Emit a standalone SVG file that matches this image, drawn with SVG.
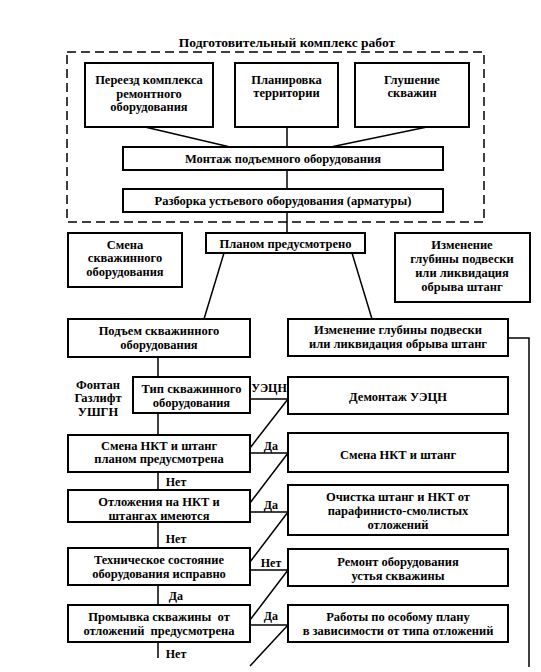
<svg xmlns="http://www.w3.org/2000/svg" width="541" height="672" viewBox="0 0 541 672">
<style>
.b{fill:#fff;stroke:#000;stroke-width:2}
.c{fill:none;stroke:#000;stroke-width:1.5}
.d{fill:none;stroke:#000;stroke-width:1.5;stroke-dasharray:9 5}
text{font-family:'Liberation Serif','DejaVu Serif',serif;font-weight:bold;font-size:12.5px;fill:#000;text-anchor:middle;dominant-baseline:central}
.t{font-size:13.5px}
.l{font-size:12px}
</style>
<rect width="541" height="672" fill="#fff"/>
<g id="prep">
<rect class="d" x="67" y="52" width="417" height="170"/>
<text class="t" x="287" y="42">Подготовительный комплекс работ</text>
</g>
<g id="connectors">
<path class="c" d="M145,127 L228,146.5 M287,127 V147 M427,127 L333,146.5 M287,170 V189 M287,212 V233"/>
<path class="c" d="M224,253 L204,319 M352,253 L372,319"/>
<path class="c" d="M508,338 H529 V667"/>
<path class="c" d="M158,357 V377 M158,413 V435 M158,472 V490 M158,522 V548 M158,585 V605 M158,642 V658"/>
<path class="c" d="M250,399 H288 M250,453 H288 M250,512 H288 M250,570 H288 M250,625 H288"/>
<path class="c" d="M250,448 L288,399 M250,503 L288,453 M250,562 L288,512 M250,620 L288,570 M250,666 L288,625"/>
</g>
<g id="n1"><rect class="b" x="85" y="63" width="128" height="64"/><text x="149" y="80">Переезд комплекса</text><text x="149" y="93.5">ремонтного</text><text x="149" y="107">оборудования</text></g>
<g id="n2"><rect class="b" x="235" y="63" width="103" height="64"/><text x="286.5" y="80">Планировка</text><text x="286.5" y="93">территории</text></g>
<g id="n3"><rect class="b" x="355" y="63" width="114" height="64"/><text x="412" y="80">Глушение</text><text x="412" y="93">скважин</text></g>
<g id="n4"><rect class="b" x="123" y="147" width="320" height="23"/><text x="283" y="159">Монтаж подъемного оборудования</text></g>
<g id="n5"><rect class="b" x="123" y="189" width="320" height="23"/><text x="283" y="201">Разборка устьевого оборудования (арматуры)</text></g>
<g id="n6"><rect class="b" x="68" y="233" width="114" height="54"/><text x="125" y="245">Смена</text><text x="125" y="258">скважинного</text><text x="125" y="272">оборудования</text></g>
<g id="n7"><rect class="b" x="206" y="233" width="159" height="20"/><text x="285.5" y="244">Планом предусмотрено</text></g>
<g id="n8"><rect class="b" x="395" y="233" width="135" height="69"/><text x="462" y="245">Изменение</text><text x="462" y="259">глубины подвески</text><text x="462" y="273">или ликвидация</text><text x="462" y="287">обрыва штанг</text></g>
<g id="n9"><rect class="b" x="68" y="319" width="182" height="38"/><text x="159" y="331">Подъем скважинного</text><text x="159" y="345">оборудования</text></g>
<g id="n10"><rect class="b" x="288" y="319" width="220" height="37"/><text x="398" y="330">Изменение глубины подвески</text><text x="398" y="344">или ликвидация обрыва штанг</text></g>
<g id="n11"><rect class="b" x="133" y="377" width="117" height="36"/><text x="191.5" y="389">Тип скважинного</text><text x="191.5" y="403">оборудования</text></g>
<g id="lab1"><text x="98" y="385">Фонтан</text><text x="98" y="398">Газлифт</text><text x="98" y="412">УШГН</text></g>
<g id="n12"><rect class="b" x="288" y="377" width="220" height="37"/><text x="398" y="397">Демонтаж УЭЦН</text></g>
<g id="n13"><rect class="b" x="68" y="435" width="182" height="37"/><text x="159" y="446">Смена НКТ и штанг</text><text x="159" y="459">планом предусмотрена</text></g>
<g id="n14"><rect class="b" x="288" y="433" width="220" height="39"/><text x="398" y="455">Смена НКТ и штанг</text></g>
<g id="n15"><rect class="b" x="68" y="490" width="182" height="32"/><text x="159" y="502">Отложения на НКТ и</text><text x="159" y="516">штангах имеются</text></g>
<g id="n16"><rect class="b" x="288" y="485" width="220" height="50"/><text x="398" y="497">Очистка штанг и НКТ от</text><text x="398" y="511">парафинисто-смолистых</text><text x="398" y="525">отложений</text></g>
<g id="n17"><rect class="b" x="68" y="548" width="182" height="37"/><text x="159" y="560">Техническое состояние</text><text x="159" y="574">оборудования исправно</text></g>
<g id="n18"><rect class="b" x="288" y="549" width="220" height="37"/><text x="398" y="562">Ремонт оборудования</text><text x="398" y="576">устья скважины</text></g>
<g id="n19"><rect class="b" x="68" y="605" width="182" height="37"/><text x="159" y="617" xml:space="preserve">Промывка скважины  от</text><text x="159" y="631" xml:space="preserve">отложений  предусмотрена</text></g>
<g id="n20"><rect class="b" x="288" y="605" width="220" height="37"/><text x="398" y="617">Работы по особому плану</text><text x="398" y="631">в зависимости от типа отложений</text></g>
<g id="labels">
<text class="l" x="269" y="388">УЭЦН</text>
<text class="l" x="271" y="446">Да</text>
<text class="l" x="271" y="505">Да</text>
<text class="l" x="271" y="563">Нет</text>
<text class="l" x="271" y="616">Да</text>
<text class="l" x="176" y="482">Нет</text>
<text class="l" x="176" y="539">Нет</text>
<text class="l" x="176" y="596">Да</text>
<text class="l" x="176" y="654">Нет</text>
</g>
</svg>
